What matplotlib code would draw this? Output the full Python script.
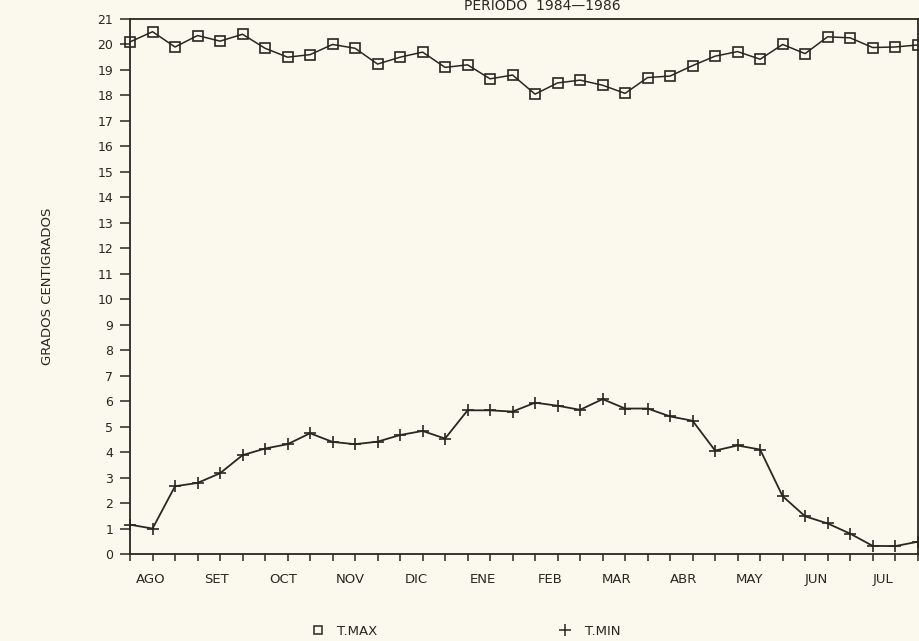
import numpy as np
import matplotlib
matplotlib.use("Agg")
from matplotlib import pyplot as plt
from matplotlib.lines import Line2D

# temperaturas por decada (3 por mes), agosto a julio
t_max = [20.1, 20.5, 19.9, 20.35, 20.13, 20.4, 19.85, 19.5, 19.6, 20.0,
         19.85, 19.23, 19.5, 19.7, 19.1, 19.2, 18.65, 18.8, 18.05, 18.49,
         18.6, 18.4, 18.08, 18.7, 18.76, 19.17, 19.54, 19.72, 19.42, 20.0,
         19.64, 20.3, 20.26, 19.88, 19.9, 19.98]
t_min = [1.15, 1.0, 2.66, 2.79, 3.17, 3.88, 4.14, 4.31, 4.74, 4.4,
         4.31, 4.41, 4.67, 4.83, 4.53, 5.64, 5.64, 5.59, 5.94, 5.82,
         5.66, 6.08, 5.71, 5.71, 5.4, 5.23, 4.06, 4.26, 4.1, 2.27,
         1.48, 1.2, 0.8, 0.32, 0.31, 0.48]
meses = ["AGO", "SET", "OCT", "NOV", "DIC", "ENE",
         "FEB", "MAR", "ABR", "MAY", "JUN", "JUL"]

ink = "#2a2723"
paper = "#fbf8ed"

plt.rcParams['font.family'] = ['DejaVu Sans']

fig = plt.figure(figsize=(9.19, 6.41), dpi=100, facecolor=paper)
ax = fig.add_axes([0.1415, 0.1357, 0.857, 0.8347], facecolor=paper)

x = np.arange(len(t_max))
ax.plot(x, t_max, color=ink, lw=1.1, marker="s", ms=7.5, mfc="none",
        mec=ink, mew=1.2, clip_on=False, zorder=3)
ax.plot(x, t_min, color=ink, lw=1.3, marker="+", ms=8.5, mew=1.2,
        clip_on=False, zorder=3)

ax.set_xlim(0, len(t_max) - 1)
ax.set_ylim(0, 21)
ax.set_yticks(range(0, 22))
ax.set_yticklabels([str(v) for v in range(0, 22)])
ax.set_xticks(x)
ax.set_xticklabels([])
ax.tick_params(axis="y", length=7, width=1.1, color=ink, labelcolor=ink,
               labelsize=9, pad=5)
ax.tick_params(axis="x", length=5, width=1.1, color=ink)
for s in ax.spines.values():
    s.set_color(ink)
    s.set_linewidth(1.3)

# etiquetas de mes
pos_mes = 0.9 + 2.96 * np.arange(len(meses))
for p, m in zip(pos_mes, meses):
    ax.text(p, -0.75, m, ha="center", va="top", fontsize=9.5,
            color=ink, transform=ax.transData)

ax.set_ylabel("GRADOS CENTIGRADOS", fontsize=9.5, color=ink, labelpad=31)

fig.text(0.59, 0.985, "PERIODO  1984\u20141986", ha="center", va="baseline",
         fontsize=10, color=ink)

handles = [Line2D([], [], ls="none", marker="s", ms=6, mfc="none", mec=ink, mew=1.1),
           Line2D([], [], ls="none", marker="+", ms=8, mec=ink, mew=1.1)]
fig.legend(handles, ["T.MAX", "T.MIN"], loc="center", ncol=2,
           bbox_to_anchor=(0.503, 0.015), frameon=False, fontsize=9.5,
           columnspacing=13.2, handletextpad=0.5, labelcolor=ink)

plt.savefig("out.png", dpi=100, facecolor=paper)
